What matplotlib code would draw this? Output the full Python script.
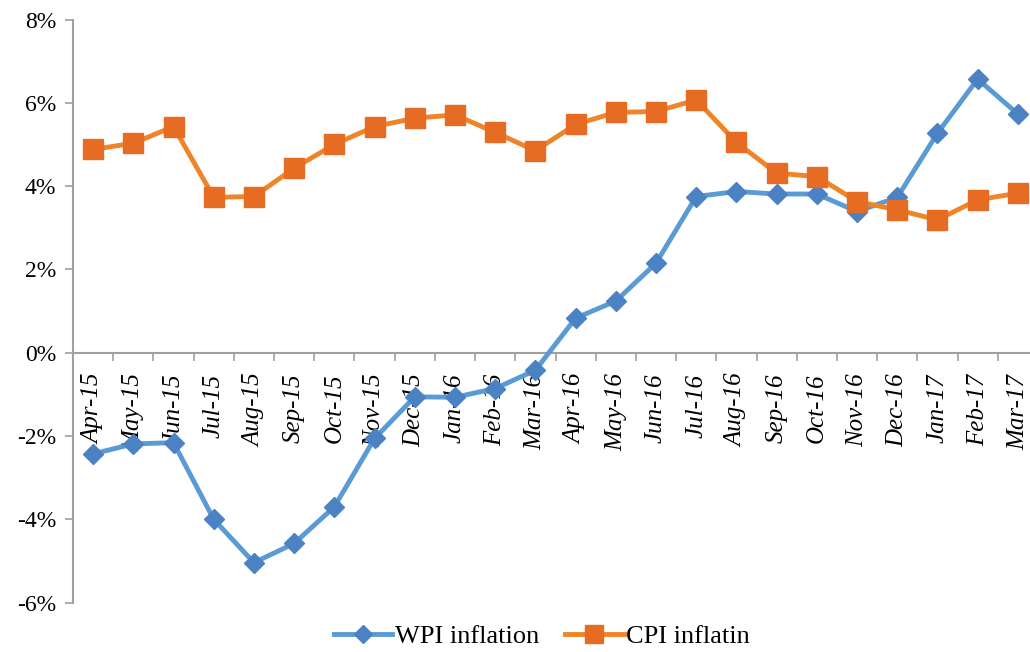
import matplotlib
matplotlib.use("Agg")
from matplotlib import pyplot as plt
from matplotlib.ticker import FixedLocator, FuncFormatter


months = ["Apr-15", "May-15", "Jun-15", "Jul-15", "Aug-15", "Sep-15",
          "Oct-15", "Nov-15", "Dec-15", "Jan-16", "Feb-16", "Mar-16",
          "Apr-16", "May-16", "Jun-16", "Jul-16", "Aug-16", "Sep-16",
          "Oct-16", "Nov-16", "Dec-16", "Jan-17", "Feb-17", "Mar-17"]

wpi = [-2.43, -2.19, -2.16, -4.00, -5.04, -4.58, -3.70, -2.06, -1.06, -1.07,
       -0.86, -0.42, 0.83, 1.24, 2.15, 3.75, 3.87, 3.81, 3.81, 3.39,
       3.73, 5.27, 6.57, 5.73]

cpi = [4.88, 5.03, 5.43, 3.73, 3.75, 4.43, 5.00, 5.43, 5.63, 5.71,
       5.29, 4.85, 5.48, 5.77, 5.79, 6.07, 5.05, 4.31, 4.23, 3.63,
       3.43, 3.19, 3.67, 3.83]

y_ticks = [-6, -4, -2, 0, 2, 4, 6, 8]


def main():
    plt.rcParams["font.family"] = ["Liberation Serif", "DejaVu Serif"]
    axis_grey = "#A0A0A0"

    fig = plt.figure(figsize=(10.3, 6.52), dpi=100)
    ax = fig.add_axes([73 / 1030, 1 - 602.6 / 652, (1038 - 73) / 1030, (602.6 - 19.5) / 652])

    # moving the spine resets the ticks, so do it first
    ax.spines["bottom"].set_position(("data", 0))
    for side in ["top", "right"]:
        ax.spines[side].set_visible(False)
    for side in ["left", "bottom"]:
        ax.spines[side].set_color(axis_grey)
        ax.spines[side].set_linewidth(1.5)

    x = list(range(len(months)))
    ax.plot(x, wpi, color="#5B9BD5", lw=3.5, marker="D", ms=10,
            mfc="#4A82C4", mec="#4A82C4", label="WPI inflation", zorder=3)
    ax.plot(x, cpi, color="#EF8428", lw=3.5, marker="s", ms=14,
            mfc="#E66C24", mec="#E66C24", label="CPI inflatin", zorder=3)

    ax.set_xlim(-0.5, len(months) - 0.5)
    ax.set_ylim(-6, 8)

    ax.set_yticks(y_ticks)
    ax.yaxis.set_major_formatter(FuncFormatter(lambda v, p: f"{v:.0f}%"))
    ax.tick_params(axis="y", labelsize=17, length=6, width=1.2,
                   color=axis_grey, pad=6)

    # category labels at the centres, tick marks on the boundaries
    ax.set_xticks(x)
    ax.set_xticklabels(months, rotation=90, fontsize=18, style="italic")
    ax.xaxis.set_minor_locator(FixedLocator([i + 0.5 for i in range(-1, len(months))]))
    ax.tick_params(axis="x", which="major", length=0, pad=15)
    ax.tick_params(axis="x", which="minor", length=6, width=1.2, color=axis_grey)

    fig.legend(loc="center", bbox_to_anchor=(542 / 1030, 1 - 636 / 652),
               ncol=2, frameon=False, fontsize=19, handlelength=2.2,
               columnspacing=1.0, handletextpad=0.1, markerscale=0.9)

    fig.savefig("out.png", dpi=100)


if __name__ == "__main__":
    main()
